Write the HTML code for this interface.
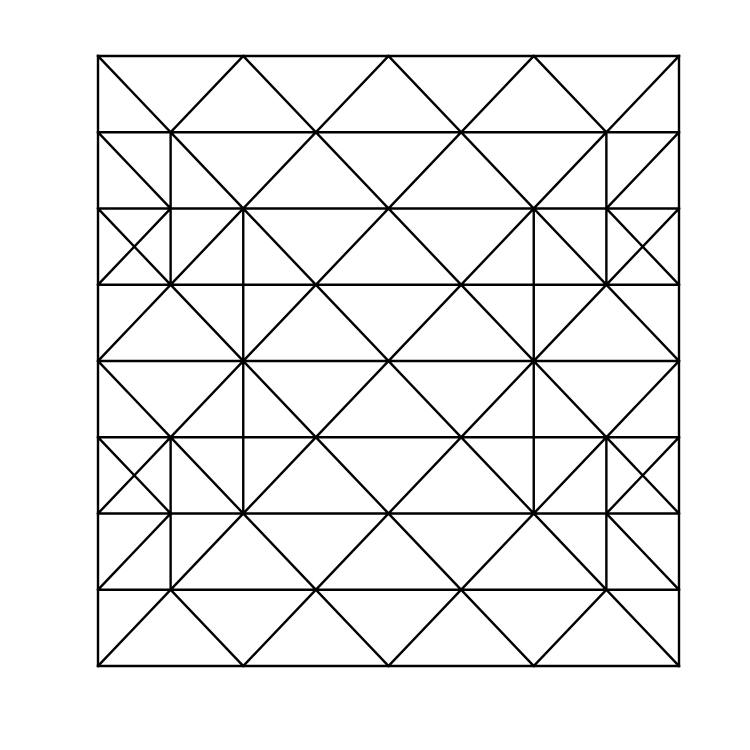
<!DOCTYPE html>
<html><head><meta charset="utf-8"><style>html,body{margin:0;background:#fff}svg{display:block}</style></head>
<body>
<svg id="c" width="750" height="750"></svg>
<script>
const xNodes=[0,1,2,3,4,5,6,7,8];
const yNodes=[0,1,2,3,4,5,6,7,8];
const hLines=[0,1,2,3,4,5,6,7,8];
const vLines=[[0,0,8],[8,0,8],[1,1,3],[7,1,3],[2,2,6],[6,2,6],[1,5,7],[7,5,7]];
const diagonals=[
[0,0,1,1],[1,1,2,0],[2,0,3,1],[3,1,4,0],[4,0,5,1],[5,1,6,0],[6,0,7,1],[7,1,8,0],
[0,1,1,2],[1,1,2,2],[2,2,3,1],[3,1,4,2],[4,2,5,1],[5,1,6,2],[6,2,7,1],[7,2,8,1],
[0,2,1,3],[0,3,1,2],[1,3,2,2],[2,2,3,3],[3,3,4,2],[4,2,5,3],[5,3,6,2],[6,2,7,3],[7,2,8,3],[7,3,8,2],
[0,4,1,3],[1,3,2,4],[2,4,3,3],[3,3,4,4],[4,4,5,3],[5,3,6,4],[6,4,7,3],[7,3,8,4],
[0,4,1,5],[1,5,2,4],[2,4,3,5],[3,5,4,4],[4,4,5,5],[5,5,6,4],[6,4,7,5],[7,5,8,4],
[0,5,1,6],[0,6,1,5],[1,5,2,6],[2,6,3,5],[3,5,4,6],[4,6,5,5],[5,5,6,6],[6,6,7,5],[7,5,8,6],[7,6,8,5],
[0,7,1,6],[1,7,2,6],[2,6,3,7],[3,7,4,6],[4,6,5,7],[5,7,6,6],[6,6,7,7],[7,6,8,7],
[0,8,1,7],[1,7,2,8],[2,8,3,7],[3,7,4,8],[4,8,5,7],[5,7,6,8],[6,8,7,7],[7,7,8,8]];
const X0=98,X1=679,Y0=56,Y1=666;
const sx=i=>X0+(X1-X0)*i/8, sy=j=>Y0+(Y1-Y0)*j/8;
const svg=document.getElementById('c');
function line(x1,y1,x2,y2,name){
  const l=document.createElementNS('http://www.w3.org/2000/svg','line');
  l.setAttribute('x1',x1);l.setAttribute('y1',y1);l.setAttribute('x2',x2);l.setAttribute('y2',y2);
  l.setAttribute('stroke','#000');l.setAttribute('stroke-width','2.4');l.setAttribute('stroke-linecap','square');
  
  
  svg.appendChild(l);
}
hLines.forEach(j=>line(sx(0),sy(j),sx(8),sy(j),'mesh-horizontal-edge'));
vLines.forEach(v=>line(sx(v[0]),sy(v[1]),sx(v[0]),sy(v[2]),'mesh-vertical-edge'));
diagonals.forEach(d=>line(sx(d[0]),sy(d[1]),sx(d[2]),sy(d[3]),'mesh-diagonal-edge'));
</script>
</body></html>
